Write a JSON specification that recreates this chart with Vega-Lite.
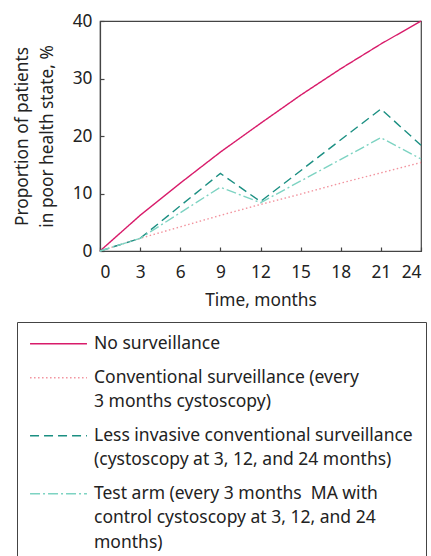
{
  "$schema": "https://vega.github.io/schema/vega-lite/v6.json",
  "width": 321,
  "height": 230,
  "autosize": {"type": "none"},
  "padding": {"left": 100, "top": 21, "right": 10, "bottom": 305},
  "background": "white",
  "config": {
    "font": "Noto Sans",
    "view": {"stroke": "#444", "strokeWidth": 1.2},
    "axis": {
      "grid": false,
      "domainColor": "#444",
      "domainWidth": 1.2,
      "tickColor": "#444",
      "tickWidth": 1.2,
      "tickSize": -4,
      "labelFont": "Noto Sans",
      "labelFontSize": 17.3,
      "labelColor": "#222",
      "titleFont": "Noto Sans",
      "titleFontSize": 17.3,
      "titleFontWeight": "normal",
      "titleColor": "#222"
    },
    "legend": {
      "labelFont": "Noto Sans",
      "labelFontSize": 17.5,
      "labelColor": "#222"
    }
  },
  "data": {
    "values": [
      {"month": 0, "value": 0, "series": "No surveillance"},
      {"month": 3, "value": 6.2, "series": "No surveillance"},
      {"month": 6, "value": 11.8, "series": "No surveillance"},
      {"month": 9, "value": 17.2, "series": "No surveillance"},
      {"month": 12, "value": 22.2, "series": "No surveillance"},
      {"month": 15, "value": 27.1, "series": "No surveillance"},
      {"month": 18, "value": 31.7, "series": "No surveillance"},
      {"month": 21, "value": 36.0, "series": "No surveillance"},
      {"month": 24, "value": 40.0, "series": "No surveillance"},
      {"month": 0, "value": 0, "series": "Conventional surveillance (every 3 months cystoscopy)"},
      {"month": 3, "value": 2.2, "series": "Conventional surveillance (every 3 months cystoscopy)"},
      {"month": 6, "value": 4.2, "series": "Conventional surveillance (every 3 months cystoscopy)"},
      {"month": 9, "value": 6.2, "series": "Conventional surveillance (every 3 months cystoscopy)"},
      {"month": 12, "value": 8.1, "series": "Conventional surveillance (every 3 months cystoscopy)"},
      {"month": 15, "value": 9.9, "series": "Conventional surveillance (every 3 months cystoscopy)"},
      {"month": 18, "value": 11.8, "series": "Conventional surveillance (every 3 months cystoscopy)"},
      {"month": 21, "value": 13.6, "series": "Conventional surveillance (every 3 months cystoscopy)"},
      {"month": 24, "value": 15.4, "series": "Conventional surveillance (every 3 months cystoscopy)"},
      {"month": 0, "value": 0, "series": "Less invasive conventional surveillance (cystoscopy at 3, 12, and 24 months)"},
      {"month": 3, "value": 2.2, "series": "Less invasive conventional surveillance (cystoscopy at 3, 12, and 24 months)"},
      {"month": 9, "value": 13.5, "series": "Less invasive conventional surveillance (cystoscopy at 3, 12, and 24 months)"},
      {"month": 12, "value": 8.6, "series": "Less invasive conventional surveillance (cystoscopy at 3, 12, and 24 months)"},
      {"month": 21, "value": 24.7, "series": "Less invasive conventional surveillance (cystoscopy at 3, 12, and 24 months)"},
      {"month": 24, "value": 18.4, "series": "Less invasive conventional surveillance (cystoscopy at 3, 12, and 24 months)"},
      {"month": 0, "value": 0, "series": "Test arm (every 3 months  MA with control cystoscopy at 3, 12, and 24 months)"},
      {"month": 3, "value": 2.2, "series": "Test arm (every 3 months  MA with control cystoscopy at 3, 12, and 24 months)"},
      {"month": 9, "value": 11.1, "series": "Test arm (every 3 months  MA with control cystoscopy at 3, 12, and 24 months)"},
      {"month": 12, "value": 8.4, "series": "Test arm (every 3 months  MA with control cystoscopy at 3, 12, and 24 months)"},
      {"month": 21, "value": 19.7, "series": "Test arm (every 3 months  MA with control cystoscopy at 3, 12, and 24 months)"},
      {"month": 24, "value": 16.0, "series": "Test arm (every 3 months  MA with control cystoscopy at 3, 12, and 24 months)"}
    ]
  },
  "mark": {"type": "line", "strokeWidth": 1.4},
  "encoding": {
    "x": {
      "field": "month",
      "type": "quantitative",
      "scale": {"domain": [0, 24], "nice": false},
      "axis": {
        "values": [0, 3, 6, 9, 12, 15, 18, 21, 24],
        "title": "Time, months",
        "labelPadding": 16,
        "titleBaseline": "middle",
        "titleY": 49
      }
    },
    "y": {
      "field": "value",
      "type": "quantitative",
      "scale": {"domain": [0, 40], "nice": false},
      "axis": {
        "values": [0, 10, 20, 30, 40],
        "title": ["Proportion of patients", "in poor health state, %"],
        "labelPadding": 12,
        "titleBaseline": "middle",
        "titleX": -78,
        "titleY": 115,
        "titleLineHeight": 25
      }
    },
    "color": {
      "field": "series",
      "type": "nominal",
      "scale": {
        "domain": [
          "No surveillance",
          "Conventional surveillance (every 3 months cystoscopy)",
          "Less invasive conventional surveillance (cystoscopy at 3, 12, and 24 months)",
          "Test arm (every 3 months  MA with control cystoscopy at 3, 12, and 24 months)"
        ],
        "range": ["#d81b6a", "#f2939e", "#1b8f82", "#7dd3c2"]
      },
      "legend": {
        "title": null,
        "orient": "none",
        "legendX": -83,
        "legendY": 301,
        "direction": "vertical",
        "padding": 13,
        "strokeColor": "#444",
        "symbolType": "M-6,0H6",
        "symbolSize": 90,
        "symbolFillColor": "transparent",
        "symbolStrokeWidth": 1.3,
        "symbolOffset": 19.75,
        "labelOffset": 26.75,
        "labelLimit": 0,
        "rowPadding": 15,
        "labelExpr": "datum.label == 'Conventional surveillance (every 3 months cystoscopy)' ? ['Conventional surveillance (every', '3 months cystoscopy)'] : datum.label == 'Less invasive conventional surveillance (cystoscopy at 3, 12, and 24 months)' ? ['Less invasive conventional surveillance', '(cystoscopy at 3, 12, and 24 months)'] : datum.label == 'Test arm (every 3 months  MA with control cystoscopy at 3, 12, and 24 months)' ? ['Test arm (every 3 months\u00a0 MA with', 'control cystoscopy at 3, 12, and 24', 'months)'] : datum.label",
        "encode": {"labels": {"update": {"lineHeight": {"value": 24.5}}}}
      }
    },
    "strokeDash": {
      "field": "series",
      "type": "nominal",
      "scale": {
        "domain": [
          "No surveillance",
          "Conventional surveillance (every 3 months cystoscopy)",
          "Less invasive conventional surveillance (cystoscopy at 3, 12, and 24 months)",
          "Test arm (every 3 months  MA with control cystoscopy at 3, 12, and 24 months)"
        ],
        "range": [[1, 0], [1.5, 2.5], [9, 5], [10, 3, 2, 3]]
      }
    }
  }
}
